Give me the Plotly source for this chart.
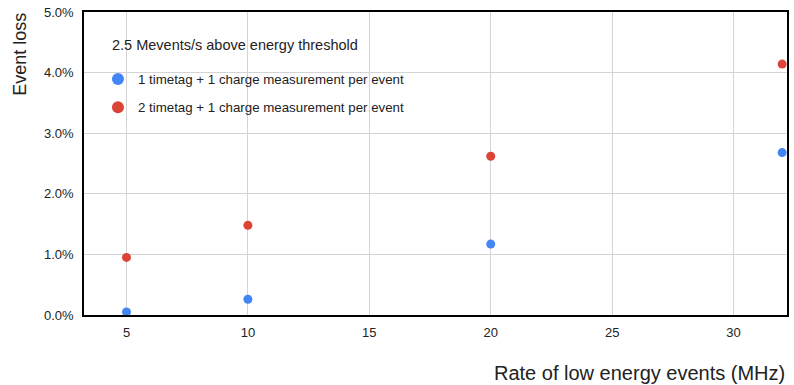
import plotly.graph_objects as go

rate = [5, 10, 20, 32]
loss_1tt = [0.0005, 0.0026, 0.0117, 0.0268]
loss_2tt = [0.0095, 0.0148, 0.0262, 0.0414]
names = ["1 timetag + 1 charge measurement per event",
         "2 timetag + 1 charge measurement per event"]
colors = ["#4285f4", "#db4437"]
legend_title = "2.5 Mevents/s above energy threshold"
yticks = [0, 0.01, 0.02, 0.03, 0.04, 0.05]
xticks = [5, 10, 15, 20, 25, 30]

fig = go.Figure()
for i, (ys, nm, c) in enumerate([(loss_1tt, names[0], colors[0]), (loss_2tt, names[1], colors[1])]):
    fig.add_trace(go.Scatter(x=rate, y=ys, mode="markers", name=nm, legendgroup=f"g{i}",
                             marker=dict(color=c, size=9), cliponaxis=False))

font = "Liberation Sans, Arial, Helvetica, sans-serif"
W, H = 794, 385
L, R, T, B = 84, 5, 11, 70
pw, ph = W - L - R, H - T - B
def px(x):
    return (x - L) / pw
def py(y):
    return (H - B - y) / ph

fig.add_shape(type="rect", xref="paper", yref="paper", x0=px(100), x1=px(414), y0=py(122), y1=py(25),
              fillcolor="white", line=dict(width=0), layer="between")
fig.add_annotation(text=legend_title, xref="paper", yref="paper", x=px(110), y=py(44),
                   xanchor="left", yanchor="middle", showarrow=False,
                   font=dict(size=14.5, color="#222"))
fig.add_annotation(text="Rate of low energy events (MHz)", xref="paper", yref="paper",
                   x=1.0, y=py(373), xanchor="right", yanchor="middle", showarrow=False,
                   font=dict(size=20, color="#222"))
fig.add_annotation(text="Event loss", xref="paper", yref="paper", textangle=-90,
                   x=px(19), y=py(10), xanchor="center", yanchor="top", showarrow=False,
                   font=dict(size=18, color="#222"))

fig.update_layout(
    width=W, height=H,
    margin=dict(l=L, r=R, t=T, b=B),
    paper_bgcolor="white", plot_bgcolor="white",
    font=dict(family=font, size=13, color="#222"),
    showlegend=True,
    legend=dict(
        x=px(98), y=py(63), xanchor="left", yanchor="top",
        bgcolor="rgba(0,0,0,0)", font=dict(size=13.3, color="#222"),
        tracegroupgap=8, itemsizing="constant", traceorder="grouped",
    ),
    xaxis=dict(range=[3.25, 32.2], tickvals=xticks, showgrid=True, gridcolor="#d4d4d4",
               showline=True, linecolor="black", linewidth=1.5, mirror=True,
               zeroline=False, ticks="", tickfont=dict(size=13), ticklabelstandoff=5),
    yaxis=dict(range=[0, 0.05], tickvals=yticks, tickformat=".1%", showgrid=True,
               gridcolor="#d4d4d4", showline=True, linecolor="black", linewidth=1.5,
               mirror=True, zeroline=False, ticks="", tickfont=dict(size=13),
               ticklabelstandoff=6),
)
fig.write_html("out.html")
